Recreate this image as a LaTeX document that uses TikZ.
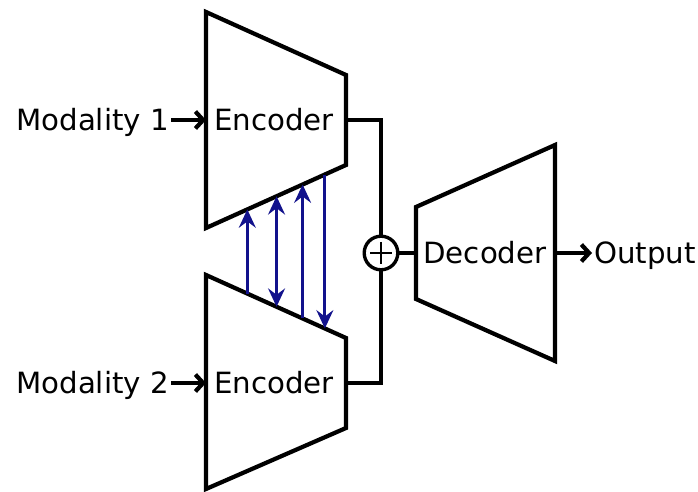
\documentclass[tikz,border=0pt]{standalone}
\usepackage{fontspec}
\setmainfont{DejaVu Sans}
\usetikzlibrary{calc, arrows.meta}
\definecolor{linkblue}{RGB}{18,18,140}

\begin{document}
\begin{tikzpicture}[x=0.025cm, y=-0.025cm, line width=3pt, line join=miter,
  lbl/.style={font=\fontsize{20.8}{25}\selectfont, inner sep=0pt,
    text height=15.2pt, text depth=0pt},
  feed/.style={-{Straight Barb[length=5.5pt, width=12pt]}},
  link/.style={linkblue, line width=2.2pt},
  toup/.style={-{Stealth[length=13pt, width=12pt, inset=4.5pt]}},
  todown/.style={{Stealth[length=13pt, width=12pt, inset=4.5pt]}-},
  toboth/.style={{Stealth[length=13pt, width=12pt, inset=4.5pt]}-{Stealth[length=13pt, width=12pt, inset=4.5pt]}}]
  \useasboundingbox (0,0) rectangle (698,492);

  % 编码器 1 的四个角
  \coordinate (e1tl) at (206,12);
  \coordinate (e1tr) at (346,75);
  \coordinate (e1br) at (346,165);
  \coordinate (e1bl) at (206,228);
  % 编码器 2 的四个角
  \coordinate (e2tl) at (206,275);
  \coordinate (e2tr) at (346,338);
  \coordinate (e2br) at (346,428);
  \coordinate (e2bl) at (206,489);
  % 解码器的四个角
  \coordinate (dtl) at (416,207);
  \coordinate (dtr) at (555,145);
  \coordinate (dbr) at (555,361);
  \coordinate (dbl) at (416,299);

  \draw (e1tl) -- (e1tr) -- (e1br) -- (e1bl) -- cycle;
  \draw (e2tl) -- (e2tr) -- (e2br) -- (e2bl) -- cycle;
  \draw (dtl) -- (dtr) -- (dbr) -- (dbl) -- cycle;

  % 输入输出端点
  \coordinate (e1in)  at (206,120);
  \coordinate (e1out) at (346,120);
  \coordinate (e2in)  at (206,383);
  \coordinate (e2out) at (346,383);
  \coordinate (din)   at (416,253);
  \coordinate (dout)  at (555,253);

  \node[lbl]             (enc1) at (274,120) {Encoder};
  \node[lbl]             (enc2) at (274,383) {Encoder};
  \node[lbl]             (dec)  at (485,253) {Decoder};
  \node[lbl, anchor=east] (mod1) at (171,120) {Modality 1};
  \node[lbl, anchor=east] (mod2) at (171,383) {Modality 2};
  \node[lbl, anchor=west] (out)  at (592,253) {Output};

  \draw[feed] (mod1.east) -- (e1in);
  \draw[feed] (mod2.east) -- (e2in);
  \draw[feed] (dout) -- (out.west);

  % 求和节点
  \node[circle, draw, line width=2.4pt, minimum size=0.84cm, inner sep=0pt] (sum) at (381,253) {};
  \draw[line width=1.2pt] ($(sum.center)+(-11,0)$) -- ($(sum.center)+(11,0)$);
  \draw[line width=1.2pt] ($(sum.center)+(0,-11)$) -- ($(sum.center)+(0,11)$);
  \draw (e1out) -| (sum.north);
  \draw (e2out) -| (sum.south);
  \draw (sum.east) -- (din);

  % 两个编码器之间的连接
  \foreach \t/\tips in {0.295/toup, 0.504/toboth, 0.69/toup, 0.849/todown}
    \draw[link, \tips] ($(e2tl)!\t!(e2tr)$) -- ($(e1bl)!\t!(e1br)$);
\end{tikzpicture}
\end{document}
